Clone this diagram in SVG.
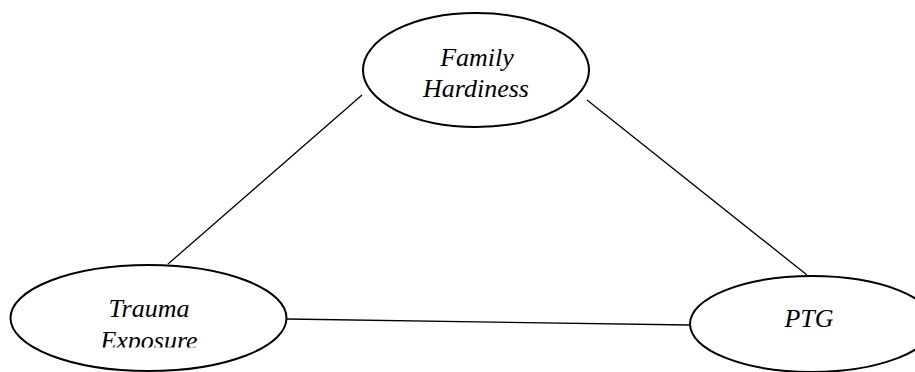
<svg xmlns="http://www.w3.org/2000/svg" width="915" height="372" viewBox="0 0 915 372">
<style>
.node ellipse{fill:#fff;stroke:#000;stroke-width:2}
.lbl{font-family:"Liberation Serif","Times New Roman",serif;font-style:italic;font-size:26px;fill:#000;text-anchor:middle}
#connectors line{stroke:#000;stroke-width:1.3}
</style>
<defs>
<clipPath id="teclip"><rect x="0" y="0" width="915" height="347.5"/></clipPath>
</defs>
<rect width="915" height="372" fill="#fff"/>
<g id="connectors">
<line x1="362" y1="95" x2="168" y2="264"/>
<line x1="587" y1="100" x2="807" y2="275"/>
<line x1="287" y1="319" x2="690" y2="325"/>
</g>
<g id="family-hardiness" class="node">
<ellipse cx="476" cy="70" rx="113" ry="57"/>
<text class="lbl" x="477" y="66">Family</text>
<text class="lbl" x="476" y="97">Hardiness</text>
</g>
<g id="trauma-exposure" class="node">
<ellipse cx="148.5" cy="318" rx="138" ry="53"/>
<text class="lbl" x="149" y="317">Trauma</text>
<text class="lbl" x="149" y="349" clip-path="url(#teclip)">Exposure</text>
</g>
<g id="ptg" class="node">
<ellipse cx="812" cy="324" rx="122" ry="48"/>
<text class="lbl" x="809" y="327">PTG</text>
</g>
</svg>
